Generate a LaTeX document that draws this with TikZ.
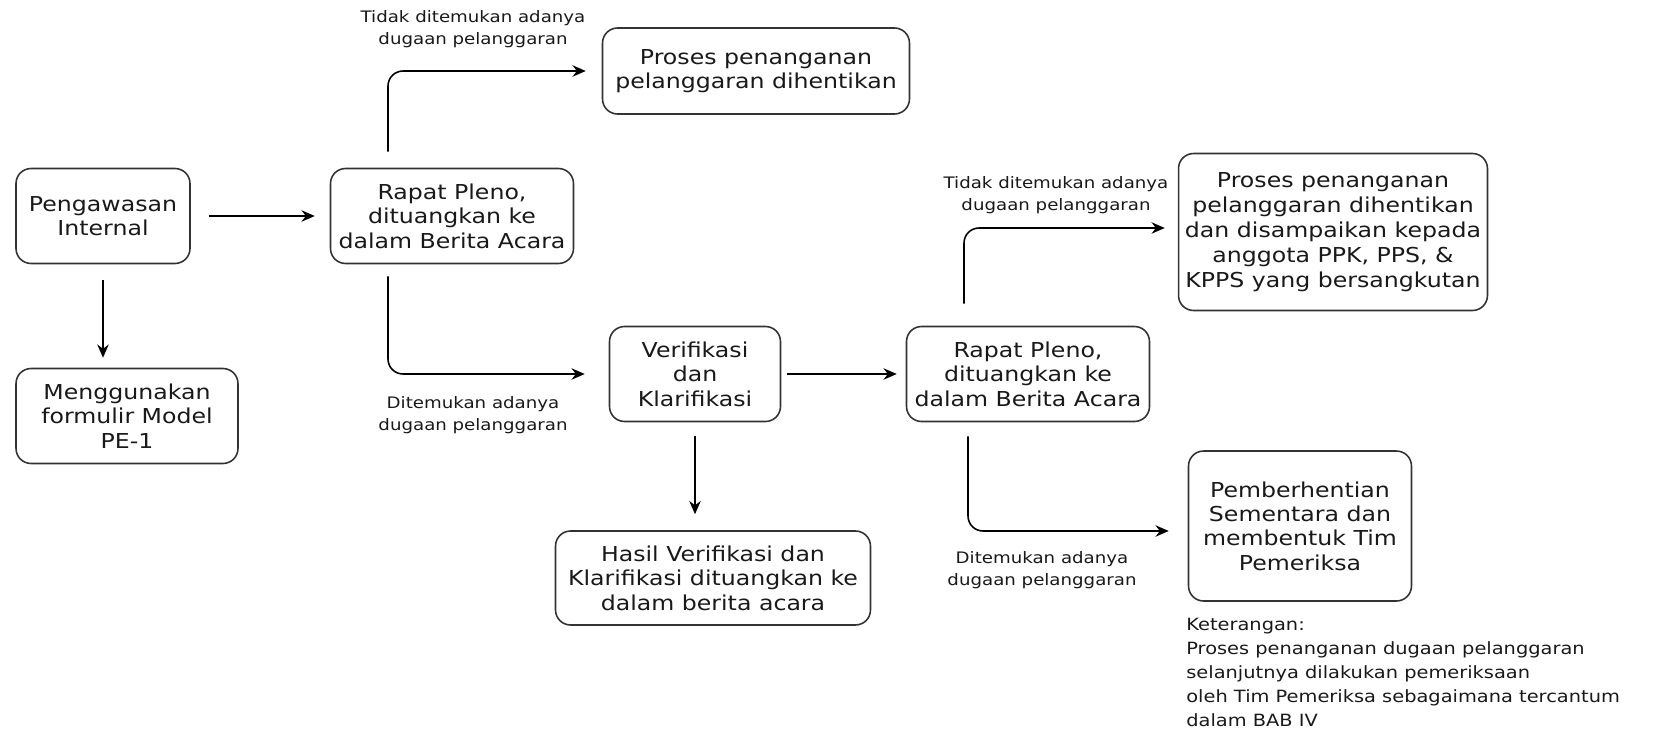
\documentclass[tikz,border=0pt]{standalone}
\usepackage{fontspec}
\setmainfont[FakeStretch=1.15]{DejaVu Sans}
\usetikzlibrary{arrows.meta,calc}
\begin{document}
\begin{tikzpicture}[x=0.02cm,y=-0.02cm,
  box/.style={draw=black!80, line width=0.9pt, rounded corners=0.3cm, align=center,
    inner sep=0pt, text=black!90, font=\fontsize{11.7}{13.9}\selectfont},
  lbl/.style={align=center, inner sep=0pt, text=black!90, font=\fontsize{9}{12.5}\selectfont},
  arr/.style={line width=0.9pt, -{Stealth[length=7.5pt,width=6.5pt]}},
  elbow/.style={arr, rounded corners=0.3cm}]
\useasboundingbox (0,0) rectangle (1654,730);

% boxes
\node[box, minimum width=3.48cm, minimum height=1.9cm] (peng) at (103,216) {Pengawasan\\Internal};
\node[box, minimum width=4.86cm, minimum height=1.9cm] (r1) at (452,216) {Rapat Pleno,\\dituangkan ke\\dalam Berita Acara};
\node[box, minimum width=4.44cm, minimum height=1.9cm] (meng) at (127,416) {Menggunakan\\formulir Model\\PE-1};
\node[box, minimum width=6.14cm, minimum height=1.72cm] (p1) at (756,71) {Proses penanganan\\pelanggaran dihentikan};
\node[box, minimum width=3.42cm, minimum height=1.9cm] (ver) at (695,374) {Verifikasi\\dan\\Klarifikasi};
\node[box, minimum width=4.86cm, minimum height=1.9cm] (r2) at (1028,374) {Rapat Pleno,\\dituangkan ke\\dalam Berita Acara};
\node[box, minimum width=6.3cm, minimum height=1.88cm] (hasil) at (713,578) {Hasil Verifikasi dan\\Klarifikasi dituangkan ke\\dalam berita acara};
\node[box, minimum width=6.18cm, minimum height=3.14cm, font=\fontsize{11.7}{14.3}\selectfont] (p2) at (1333,232) {Proses penanganan\\pelanggaran dihentikan\\dan disampaikan kepada\\anggota PPK, PPS, \&\\KPPS yang bersangkutan};
\node[box, minimum width=4.46cm, minimum height=3.0cm] (pem) at (1300,526) {Pemberhentian\\Sementara dan\\membentuk Tim\\Pemeriksa};

% labels
\node[lbl] (l1) at (473,29) {Tidak ditemukan adanya\\dugaan pelanggaran};
\node[lbl] (l2) at (473,415) {Ditemukan adanya\\dugaan pelanggaran};
\node[lbl] (l3) at (1056,195) {Tidak ditemukan adanya\\dugaan pelanggaran};
\node[lbl] (l4) at (1042,570) {Ditemukan adanya\\dugaan pelanggaran};
\node[align=left, inner sep=0pt, anchor=north west, text=black!90,
  font=\fontsize{9.6}{13.6}\selectfont] (ket) at (1186,618)
  {Keterangan:\\Proses penanganan dugaan pelanggaran\\selanjutnya dilakukan pemeriksaan\\oleh Tim Pemeriksa sebagaimana tercantum\\dalam BAB IV};

% connectors
\draw[arr, shorten <=0.36cm, shorten >=0.3cm] (peng) -- (r1);
\draw[arr] ([yshift=-0.32cm]peng.south) -- ([yshift=0.2cm]peng.south |- meng.north);
\draw[elbow] ([xshift=-1.28cm,yshift=0.32cm]r1.north) |- ([xshift=-0.32cm]p1.west);
\draw[elbow] ([xshift=-1.28cm,yshift=-0.24cm]r1.south) |- ([xshift=-0.48cm]ver.west);
\draw[arr, shorten <=0.12cm, shorten >=0.18cm] (ver) -- (r2);
\draw[arr] ([yshift=-0.28cm]ver.south) -- ([yshift=0.32cm]ver.south |- hasil.north);
\draw[elbow] ([xshift=-1.28cm,yshift=0.44cm]r2.north) |- ([xshift=-0.26cm,yshift=0.08cm]p2.west);
\draw[elbow] ([xshift=-1.2cm,yshift=-0.28cm]r2.south) |- ([xshift=-0.38cm,yshift=-0.1cm]pem.west);
\end{tikzpicture}
\end{document}
